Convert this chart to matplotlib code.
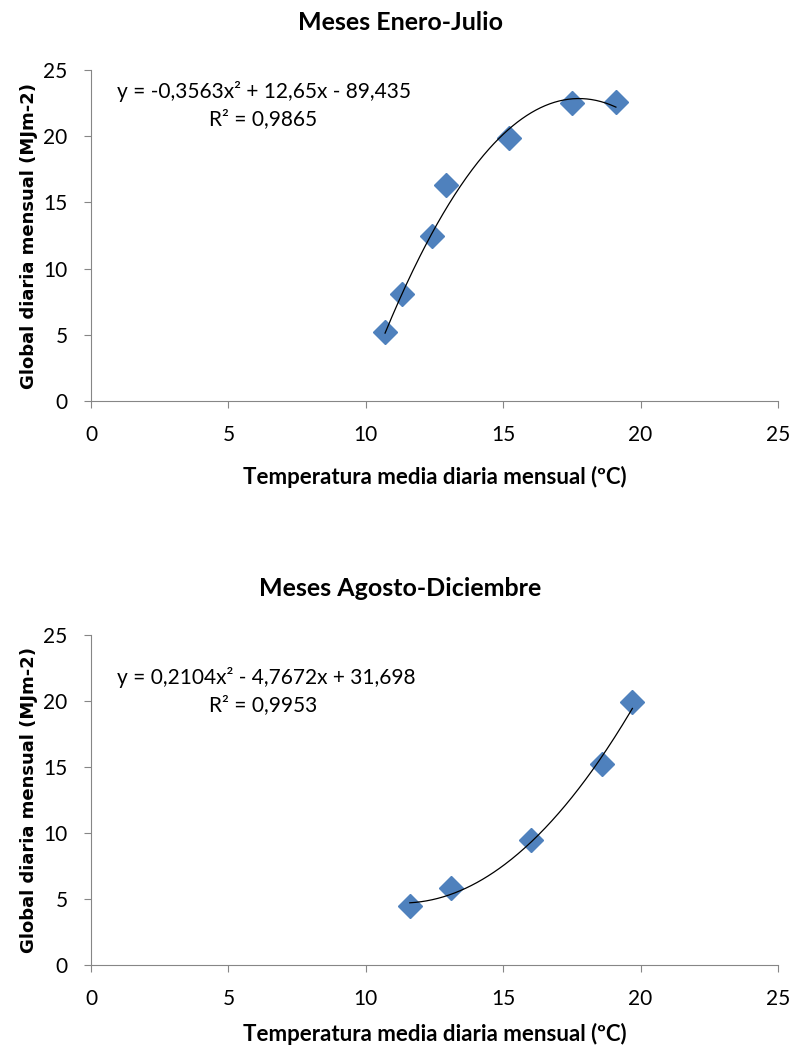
import numpy as np
import matplotlib.pyplot as plt

# Datos
temp_ene_jul = [10.7, 11.3, 12.4, 12.9, 15.2, 17.5, 19.1]
glob_ene_jul = [5.2, 8.1, 12.5, 16.3, 19.9, 22.5, 22.6]
coef_ene_jul = [-0.3563, 12.65, -89.435]

temp_ago_dic = [11.6, 13.1, 16.0, 18.6, 19.7]
glob_ago_dic = [4.5, 5.8, 9.5, 15.2, 19.9]
coef_ago_dic = [0.2104, -4.7672, 31.698]

ticks = [0, 5, 10, 15, 20, 25]
azul = '#4F81BD'
gris = '#868686'
fuente = 'Lato'

fig = plt.figure(figsize=(7.93, 10.5), dpi=100)

def panel(rect, x, y, coef, titulo, eq, r2, ty, lpad):
    ax = fig.add_axes(rect)
    xs = np.linspace(min(x), max(x), 200)
    ax.plot(xs, np.polyval(coef, xs), color='black', lw=0.9, zorder=3)
    ax.plot(x, y, 'D', color=azul, markersize=12, zorder=2)
    ax.set_xlim(0, 25)
    ax.set_ylim(0, 25)
    ax.set_xticks(ticks)
    ax.set_yticks(ticks)
    for s in ['top', 'right']:
        ax.spines[s].set_visible(False)
    for s in ['left', 'bottom']:
        ax.spines[s].set_color(gris)
    ax.tick_params(colors=gris, labelcolor='black', length=5, pad=12, labelsize=15)
    for lab in ax.get_xticklabels() + ax.get_yticklabels():
        lab.set_family(fuente)
    ax.set_xlabel('Temperatura media diaria mensual (ºC)', fontsize=16,
                  fontweight='bold', family=fuente, labelpad=lpad)
    ax.set_ylabel('Global diaria mensual (MJm-2)', fontsize=13,
                  fontweight='bold', family='DejaVu Sans', labelpad=4)
    fig.text(0.505, ty, titulo, ha='center', va='center', fontsize=18,
             fontweight='bold', family=fuente)
    ax.text(0.95, eq[1], eq[0], fontsize=15, family=fuente, va='center')
    ax.text(4.3, r2[1], r2[0], fontsize=15, family=fuente, va='center')
    return ax

panel([0.1148, 0.6181, 0.8663, 0.3152], temp_ene_jul, glob_ene_jul, coef_ene_jul,
      'Meses Enero-Julio', ('y = -0,3563x² + 12,65x - 89,435', 23.4),
      ('R² = 0,9865', 21.3), 0.979, 15)
panel([0.1148, 0.0810, 0.8663, 0.3142], temp_ago_dic, glob_ago_dic, coef_ago_dic,
      'Meses Agosto-Diciembre', ('y = 0,2104x² - 4,7672x + 31,698', 21.8),
      ('R² = 0,9953', 19.7), 0.440, 10)

fig.savefig('out.png', dpi=100)
